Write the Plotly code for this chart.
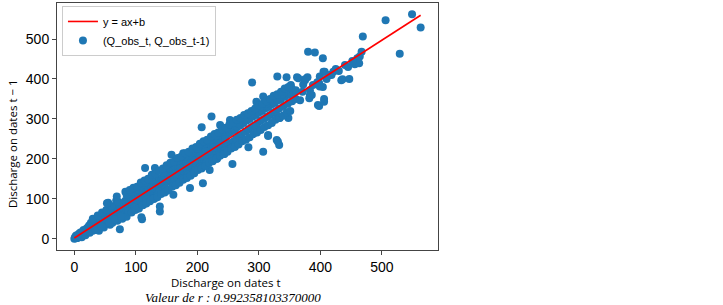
import plotly.graph_objects as go

# ---- data (Q_obs_t, Q_obs_t-1) ----
seg_a_t = [0,1,2,3,4,5,6,7,8,9,10,11,12,13,14,15,16,17,18,19,20,21,22,23,24,25,26,27,28,29,30,
           2,5,8,12,15,18,22,25,28,30,3,6,10,14,20,24,27]
seg_a_p = [0,3,1,5,2,6,4,9,5,12,7,14,9,16,10,18,12,20,14,22,15,24,18,27,19,30,21,32,23,34,25,
           6,2,13,4,22,9,28,15,36,20,8,10,16,19,26,33,40]

seg_b_t = [31,32,33,34,35,36,37,38,39,40,41,42,43,44,45,46,47,48,49,50,51,52,53,54,55,56,57,58,59,60,
           61,62,63,64,65,66,67,68,69,70,71,72,73,74,75,76,77,78,79,80,
           30,38,45,52,60,55,68,72,69,53,83,40,48,58,62,70,74,78,85,35,44,57,66,76]
seg_b_p = [38,28,42,26,40,31,46,30,44,34,50,33,47,38,55,37,52,40,58,43,56,41,62,46,60,45,66,50,64,48,
           70,52,68,55,74,54,72,58,78,60,76,62,82,63,80,66,86,67,84,70,
           50,58,66,72,82,90,95,92,106,89,118,20,28,35,40,45,24,50,55,22,30,40,48,56]

seg_c_t = [81,82,83,84,85,86,87,88,89,90,91,92,93,94,95,96,97,98,99,100,
           101,102,103,104,105,106,107,108,109,110,111,112,113,114,115,116,117,118,119,120,
           121,122,123,124,125,126,127,128,129,130,131,132,133,134,135,136,137,138,139,140,
           141,142,143,144,145,146,147,148,149,150,151,152,153,154,155,156,157,158,159,160,
           85,92,100,108,115,102,112,120,128,135,110,139,109,115,131,158,177,139,161,150,
           130,95,105,125,145,155,88,98,118,138,148]
seg_c_p = [88,72,95,76,90,78,98,80,94,84,102,83,96,88,106,86,100,92,110,90,
           104,95,114,94,108,98,118,100,112,103,122,104,116,108,126,107,120,111,130,112,
           124,116,134,115,128,119,138,120,132,123,142,124,136,127,146,128,140,131,150,132,
           144,135,154,136,148,139,158,140,152,143,162,144,156,147,166,148,160,151,170,152,
           110,118,125,132,140,75,85,95,100,110,49,68,54,177,177,210,214,81,110,120,
           100,80,122,148,165,175,68,78,98,118,125]

seg_d_t = [161,163,165,167,169,171,173,175,177,179,181,183,185,187,189,191,193,195,197,199,
           201,203,205,207,209,211,213,215,217,219,221,223,225,227,229,231,233,235,237,239,
           241,243,245,247,249,251,253,255,257,259,
           170,180,190,200,210,220,230,240,250,175,185,195,205,215,225,235,245,255,
           188,209,232,244,220,257,262,207,223,237,253,253,164,172,184,196,204,214,226,236,246]
seg_d_p = [172,150,178,155,180,160,186,162,190,166,194,170,198,174,202,178,206,182,210,186,
           214,190,218,194,222,198,226,202,230,206,234,210,238,214,242,218,246,222,250,226,
           254,230,258,234,262,238,266,240,270,244,
           195,205,215,225,235,245,258,265,275,150,160,170,180,190,200,210,220,228,
           127,139,200,212,172,187,236,279,306,285,277,297,162,176,182,196,206,218,228,238,250]

seg_e_t = [261,263,265,268,270,272,275,278,280,283,285,288,290,293,295,298,300,303,305,308,
           310,313,315,318,320,323,325,328,330,333,336,340,343,347,350,354,357,360,
           296,315,329,333,307,283,239,315,331,289,330,345,362,307,296,340,329,331,334,348,
           315,352,353,360,267,277,287,302,312,322,337]
seg_e_p = [272,250,280,258,284,262,290,268,296,274,300,280,306,284,310,290,316,296,320,300,
           326,305,330,310,336,316,340,320,346,326,350,332,356,338,362,344,366,350,
           281,260,247,235,218,229,268,257,243,391,406,404,404,356,343,364,347,306,302,302,
           306,385,377,372,290,300,310,330,338,350,360]

seg_f_t = [364,367,371,375,379,380,382,383,386,388,391,396,398,398,399,399,404,404,405,406,
           407,415,418,421,434,436,440,447,456,456,460,464,463,467,469,372,375,383,406,
           395,410,425,430,445,452,506,529,549,563]
seg_f_p = [402,347,368,397,404,468,352,372,360,385,466,335,389,332,406,381,380,452,418,343,
           418,410,410,418,397,399,435,400,439,437,452,456,439,468,506,386,399,360,350,
           392,400,425,420,430,445,547,463,562,529]

# upper and lower edges of the dense band
seg_g_t = [90,96,102,108,114,120,126,132,138,144,150,156,162,168,174,180,186,192,198,204,
           210,216,222,228,234,240,246,252,258,264,270,276,282,288,294,300,306,312,318,324,
           330,336,342,348]
seg_g_p = [122,128,130,141,146,150,160,163,170,176,184,190,193,202,206,214,218,226,230,238,
           244,248,256,262,266,274,278,286,290,298,302,310,314,320,326,334,338,344,350,358,
           362,368,376,380]

seg_h_t = [93,99,105,111,117,123,129,135,141,147,153,159,165,171,177,183,189,195,201,207,
           213,219,225,231,237,243,249,255,261,267,273,279,285,291,297,303,309,315,321,327,
           333,339,345,351]
seg_h_p = [66,72,76,84,88,94,100,104,112,116,122,130,134,140,148,152,158,164,172,176,
           182,190,194,200,208,212,218,226,230,236,244,248,254,262,266,272,280,284,290,298,
           302,308,316,320]

q_obs_t = seg_a_t + seg_b_t + seg_c_t + seg_d_t + seg_e_t + seg_f_t + seg_g_t + seg_h_t
q_obs_t_prev = seg_a_p + seg_b_p + seg_c_p + seg_d_p + seg_e_p + seg_f_p + seg_g_p + seg_h_p
assert len(q_obs_t) == len(q_obs_t_prev)

slope_a = 0.99
intercept_b = 2.0
r_value_text = "Valeur de r : 0.992358103370000"
tick_values = [0, 100, 200, 300, 400, 500]

line_x = [min(q_obs_t), max(q_obs_t)]
line_y = [slope_a * v + intercept_b for v in line_x]

fig = go.Figure()
fig.add_trace(go.Scatter(
    x=q_obs_t, y=q_obs_t_prev, mode="markers",
    name="(Q_obs_t, Q_obs_t-1)",
    marker=dict(color="#1f77b4", size=8, line=dict(width=0)),
    legendrank=2,
))
fig.add_trace(go.Scatter(
    x=line_x, y=line_y, mode="lines", name="y = ax+b",
    line=dict(color="#ff0000", width=1.6),
    legendrank=1,
))

axis_common = dict(
    showline=True, mirror=True, linecolor="#444", linewidth=1,
    ticks="outside", ticklen=4, tickcolor="#444", tickwidth=1,
    showgrid=False, zeroline=False, automargin=False,
    tickfont=dict(family="Liberation Sans, Arial", size=14, color="black"),
    tickvals=tick_values,
)

fig.update_layout(
    width=723, height=305,
    margin=dict(l=57, r=285, t=3, b=55, autoexpand=False),
    paper_bgcolor="white", plot_bgcolor="white",
    xaxis=dict(range=[-28.2, 591.2], **axis_common),
    yaxis=dict(range=[-28.1, 590.1], **axis_common),
    showlegend=True,
    legend=dict(
        x=0.013, y=0.988, xanchor="left", yanchor="top",
        bgcolor="rgba(255,255,255,0.8)", bordercolor="#cccccc", borderwidth=1,
        font=dict(family="Liberation Sans, Arial", size=11, color="black"),
        tracegroupgap=0, itemwidth=30,
    ),
    annotations=[
        dict(text="Discharge on dates t", xref="paper", yref="paper",
             x=0.4436, y=-0.1296, xanchor="center", yanchor="middle", showarrow=False,
             font=dict(family="Open Sans", size=11.5, color="black")),
        dict(text="Discharge on dates t − 1", xref="paper", yref="paper",
             x=-0.118, y=0.429, xanchor="center", yanchor="middle", showarrow=False,
             textangle=-90,
             font=dict(family="Open Sans", size=11.5, color="black")),
        dict(text="<i>" + r_value_text + "</i>", xref="paper", yref="paper",
             x=0.463, y=-0.194, xanchor="center", yanchor="middle", showarrow=False,
             font=dict(family="Liberation Serif", size=13, color="black")),
    ],
)

fig.write_html("out.html",
               config={"displayModeBar": False},
               post_script="document.body.style.margin='0';document.body.style.overflow='hidden';")
